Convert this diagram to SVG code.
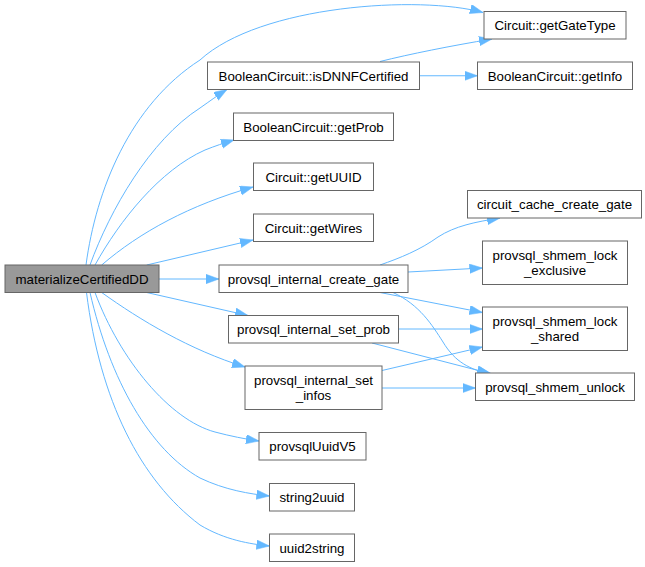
<svg xmlns="http://www.w3.org/2000/svg" width="645" height="567" viewBox="0 0 645 567">
<style>
.n rect{fill:#ffffff;stroke:#666666;stroke-width:1}
.n.root rect{fill:#999999}
.n text{font-family:"Liberation Sans",Arial,Helvetica,sans-serif;font-size:13.3px;fill:#000000;text-anchor:middle}
.e path{fill:none;stroke:#63b8ff;stroke-width:1;marker-end:url(#arr)}
</style>
<defs>
<marker id="arr" markerUnits="userSpaceOnUse" markerWidth="14" markerHeight="10" refX="13" refY="4.7" orient="auto">
<path d="M0,0 L13,4.7 L0,9.4 z" fill="#63b8ff" stroke="#63b8ff" stroke-width="0.5"/>
</marker>
</defs>
<rect width="645" height="567" fill="#ffffff"/>
<g id="edges" class="e">
<path d="M86,265 C96,190 130,105 200,60 C260,5 420,-5 483,12.5"/>
<path d="M90,265 C110,210 150,140 200,108 C210,101 218,95 227,89.5"/>
<path d="M95,265 C120,220 160,170 205,150 C215,146 224,143 234,140"/>
<path d="M101.7,265 C140,232 190,205 253,187"/>
<path d="M146.7,265 L253,240"/>
<path d="M159,279 L219,279"/>
<path d="M146.7,292.5 L248,315.5"/>
<path d="M101.7,292.5 C140,320 190,350 245,367"/>
<path d="M95,292.5 C120,360 170,420 215,432 C230,436 245,439 259,441"/>
<path d="M90,292.5 C110,380 150,450 200,478 C225,490 250,494 269.5,496"/>
<path d="M86.5,292.5 C100,400 140,480 200,525 C225,540 250,544 269.5,546"/>
<path d="M380,61.5 C410,54 450,46 492,39"/>
<path d="M419.5,75.75 L477.5,75.75"/>
<path d="M380,265 C400,258 420,250 438,237 C455,226 475,222 500,218"/>
<path d="M408,272 L482.5,268"/>
<path d="M380,292.5 L482.5,312.5"/>
<path d="M393,292.5 C420,305 432,325 443,342 C455,362 470,370 492,374"/>
<path d="M398.5,329 L482.5,329"/>
<path d="M372,343 L490,373.5"/>
<path d="M382,370.5 L482.5,347"/>
<path d="M382,388 L475.5,388"/>
</g>
<g id="materializeCertifiedDD" class="n root"><rect x="5" y="265" width="154" height="27.5"/><text x="82" y="283.5">materializeCertifiedDD</text></g>
<g id="getGateType" class="n"><rect x="484" y="11.5" width="142" height="27.5"/><text x="555" y="30">Circuit::getGateType</text></g>
<g id="isDNNFCertified" class="n"><rect x="207.5" y="62" width="212" height="27.5"/><text x="313.5" y="80.5">BooleanCircuit::isDNNFCertified</text></g>
<g id="getInfo" class="n"><rect x="477.5" y="62" width="155" height="27.5"/><text x="555" y="80.5">BooleanCircuit::getInfo</text></g>
<g id="getProb" class="n"><rect x="233.5" y="113" width="160" height="27.5"/><text x="313.5" y="131.5">BooleanCircuit::getProb</text></g>
<g id="getUUID" class="n"><rect x="253.5" y="163" width="120" height="27.5"/><text x="313.5" y="181.5">Circuit::getUUID</text></g>
<g id="getWires" class="n"><rect x="253.5" y="214" width="120" height="27.5"/><text x="313.5" y="232.5">Circuit::getWires</text></g>
<g id="circuit_cache_create_gate" class="n"><rect x="467.5" y="190.5" width="174" height="27.5"/><text x="554.5" y="209">circuit_cache_create_gate</text></g>
<g id="provsql_shmem_lock_exclusive" class="n"><rect x="482.5" y="241" width="145" height="43.5"/><text x="555" y="259.5">provsql_shmem_lock</text><text x="555" y="275">_exclusive</text></g>
<g id="provsql_internal_create_gate" class="n"><rect x="219" y="265" width="189" height="27.5"/><text x="313.5" y="283.5">provsql_internal_create_gate</text></g>
<g id="provsql_internal_set_prob" class="n"><rect x="228.5" y="315.5" width="170" height="27.5"/><text x="313.5" y="334">provsql_internal_set_prob</text></g>
<g id="provsql_shmem_lock_shared" class="n"><rect x="482.5" y="307" width="145" height="43.5"/><text x="555" y="325.5">provsql_shmem_lock</text><text x="555" y="341">_shared</text></g>
<g id="provsql_internal_set_infos" class="n"><rect x="245" y="366" width="137" height="43.5"/><text x="313.5" y="384.5">provsql_internal_set</text><text x="313.5" y="400">_infos</text></g>
<g id="provsql_shmem_unlock" class="n"><rect x="475.5" y="373" width="159" height="27.5"/><text x="555" y="391.5">provsql_shmem_unlock</text></g>
<g id="provsqlUuidV5" class="n"><rect x="259" y="432.5" width="107" height="27.5"/><text x="312.5" y="451">provsqlUuidV5</text></g>
<g id="string2uuid" class="n"><rect x="269.5" y="483.5" width="85" height="27.5"/><text x="312" y="502">string2uuid</text></g>
<g id="uuid2string" class="n"><rect x="269.5" y="534" width="85" height="27.5"/><text x="312" y="552.5">uuid2string</text></g>
</svg>
